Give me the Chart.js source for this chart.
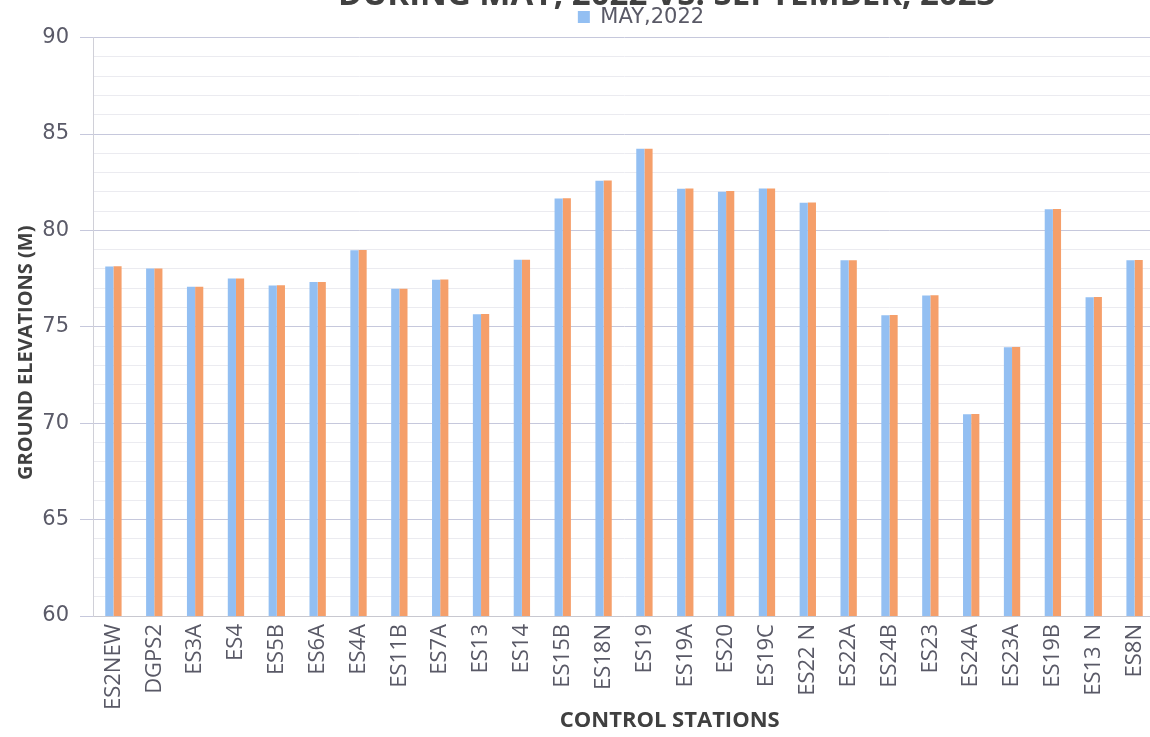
<!DOCTYPE html>
<html>
<head>
<meta charset="utf-8">
<script src="https://cdn.jsdelivr.net/npm/chart.js@4.4.1/dist/chart.umd.min.js"></script>
<style>
    html, body { margin: 0; padding: 0; background: #fff; overflow: hidden; }
    #wrap { position: relative; width: 1150px; height: 737px; overflow: hidden; }
    #wrap canvas { position: absolute; left: 0; top: -24px; }
</style>
</head>
<body>
<div id="wrap"><canvas id="elevChart" width="1268" height="758"></canvas></div>
<script>
const stations = ['ES2NEW', 'DGPS2', 'ES3A', 'ES4', 'ES5B', 'ES6A', 'ES4A', 'ES11B', 'ES7A', 'ES13',
    'ES14', 'ES15B', 'ES18N', 'ES19', 'ES19A', 'ES20', 'ES19C', 'ES22 N', 'ES22A', 'ES24B',
    'ES23', 'ES24A', 'ES23A', 'ES19B', 'ES13 N', 'ES8N'];
const may2022 = [78.13, 78.03, 77.08, 77.5, 77.14, 77.32, 78.97, 76.98, 77.44, 75.65,
    78.48, 81.66, 82.58, 84.23, 82.16, 82.0, 82.17, 81.44, 78.45, 75.6,
    76.63, 70.47, 73.94, 81.1, 76.53, 78.45];
const sep2023 = [78.14, 78.03, 77.08, 77.51, 77.15, 77.32, 78.98, 76.98, 77.45, 75.66,
    78.48, 81.67, 82.59, 84.24, 82.17, 82.05, 82.18, 81.45, 78.45, 75.61,
    76.64, 70.48, 73.95, 81.11, 76.54, 78.46];
const yMin = 60, yMax = 90, yMajor = 5;

const ctx = document.getElementById('elevChart').getContext('2d');

new Chart(ctx, {
    type: 'bar',
    data: {
        labels: stations,
        datasets: [{
            label: 'MAY,2022',
            data: may2022,
            backgroundColor: '#93bff2',
            categoryPercentage: 0.4,
            barPercentage: 1.0
        }, {
            label: 'SEPTEMBER,2023',
            data: sep2023,
            backgroundColor: '#f59f6a',
            categoryPercentage: 0.4,
            barPercentage: 1.0
        }]
    },
    options: {
        responsive: false,
        animation: false,
        layout: { padding: { left: 14, top: 0, bottom: 2 } },
        plugins: {
            tooltip: { enabled: false },
            title: {
                display: true,
                // leading spaces nudge the heading right of the legend like the original
                text: '      DURING MAY, 2022 VS. SEPTEMBER, 2023',
                color: '#404040',
                font: { family: 'Open Sans', size: 33, weight: 'bold' },
                padding: { top: 0, bottom: -12 }
            },
            legend: {
                position: 'top',
                labels: {
                    color: '#595966',
                    font: { family: 'DejaVu Sans', size: 21 },
                    boxWidth: 12,
                    boxHeight: 12,
                    padding: 3,
                    filter: item => item.datasetIndex === 0
                }
            }
        },
        scales: {
            x: {
                grid: { display: false },
                border: { color: '#c8c8d0' },
                ticks: {
                    color: '#595966',
                    font: { family: 'Open Sans', size: 22 },
                    minRotation: 90,
                    maxRotation: 90,
                    autoSkip: false,
                    padding: 0
                },
                title: {
                    display: true,
                    // leading spaces push the axis name right, as in the original
                    text: '                CONTROL STATIONS',
                    color: '#404040',
                    font: { family: 'Open Sans', size: 22, weight: 'bold', lineHeight: 1.0 },
                    padding: { top: 0, bottom: 0 }
                }
            },
            y: {
                min: yMin,
                max: yMax,
                border: { color: '#d0d0d8' },
                grid: {
                    color: c => (c.tick.value % yMajor === 0 ? '#c6c8dc' : '#ebebf0'),
                    tickColor: c => (c.tick.value % yMajor === 0 ? '#c6c8dc' : 'rgba(0,0,0,0)'),
                    tickLength: 13
                },
                ticks: {
                    stepSize: 1,
                    autoSkip: false,
                    color: '#5a5a68',
                    font: { family: 'DejaVu Sans', size: 21 },
                    padding: 11,
                    callback: v => (v % yMajor === 0 ? v : '')
                },
                title: {
                    display: true,
                    // trailing spaces drop the axis name a little below the middle
                    text: 'GROUND ELEVATIONS (M)          ',
                    color: '#404040',
                    font: { family: 'Open Sans', size: 20, weight: 'bold' },
                    padding: { top: 0, bottom: 0 }
                },
                afterFit: scale => { scale.width = 79; }
            },
            yRight: {
                type: 'linear',
                position: 'right',
                display: true,
                grid: { display: false },
                border: { display: false },
                ticks: { display: false },
                afterFit: scale => { scale.width = 113; }
            }
        }
    }
});
</script>
</body>
</html>
